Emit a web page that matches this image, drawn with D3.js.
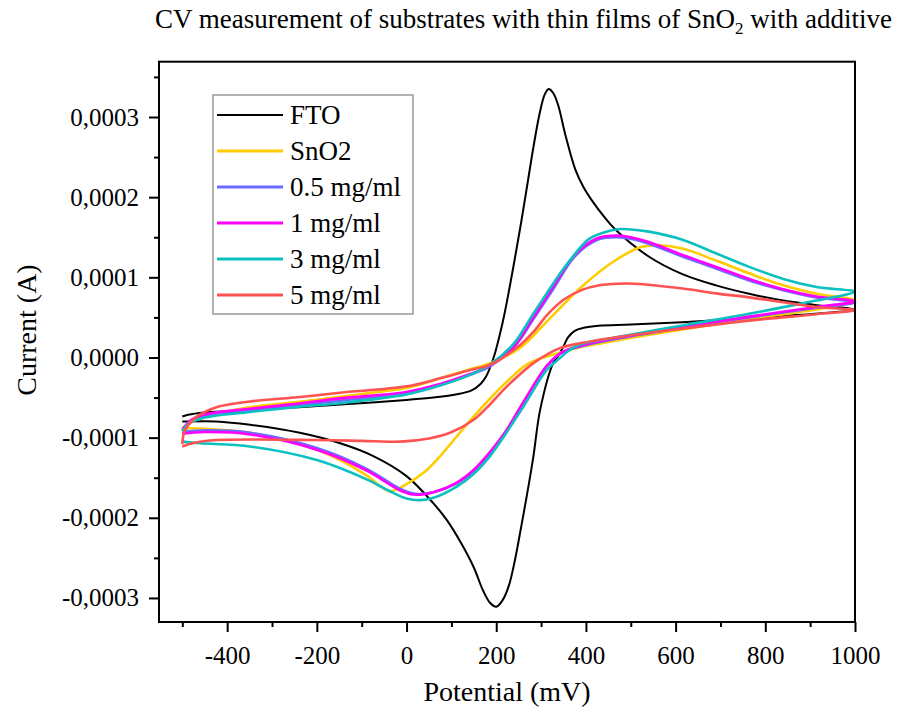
<!DOCTYPE html>
<html><head><meta charset="utf-8">
<script src="https://cdn.jsdelivr.net/npm/d3@7"></script>
<style>body{margin:0;background:#fff} text{font-family:"Liberation Serif","Times New Roman",serif;fill:#000}</style>
</head><body><svg id="c" width="898" height="713"></svg>
<script>
// ---- data: [potential mV, current A], forward scan then reverse scan ----
const seriesNames = ["FTO", "SnO2", "0.5 mg/ml", "1 mg/ml", "3 mg/ml", "5 mg/ml"];
const seriesColors = ["#000000", "#FFCC00", "#6B6BFF", "#FF00FF", "#0CC0C0", "#FF5252"];

const FTO = [
[-500,-7.36e-5],[-487,-7.14e-5],[-450,-6.86e-5],[-412,-6.73e-5],[-349,-6.52e-5],[-240,-6.2e-5],[-130,-5.8e-5],[0,-5.3e-5],[60,-5.0e-5],[112,-4.6e-5],[145,-4.1e-5],[165,-3.3e-5],[178,-2.3e-5],[188,-1.0e-5],[197,5e-6],[206,2.4e-5],[216,4.8e-5],[228,8.2e-5],[242,1.25e-4],[256,1.7e-4],[270,2.18e-4],[284,2.66e-4],[297,3.05e-4],[308,3.28e-4],[317,3.35e-4],[327,3.3e-4],[338,3.15e-4],[354,2.78e-4],[376,2.35e-4],[395,2.12e-4],[412,1.97e-4],[440,1.76e-4],[465,1.6e-4],[540,1.26e-4],[615,1.04e-4],[690,9.0e-5],[764,7.95e-5],[840,7.1e-5],[920,6.5e-5],[1000,6.0e-5],
[920,5.5e-5],[840,5.2e-5],[764,4.9e-5],[615,4.4e-5],[500,4.1e-5],[428,3.95e-5],[395,3.7e-5],[375,3.33e-5],[360,2.5e-5],[349,1.26e-5],[338,2e-6],[327,-7e-6],[298,-6.5e-5],[283,-1.23e-4],[268,-1.73e-4],[256,-2.1e-4],[242,-2.52e-4],[228,-2.85e-4],[214,-3.03e-4],[200,-3.11e-4],[186,-3.06e-4],[170,-2.9e-4],[150,-2.62e-4],[120,-2.3e-4],[90,-2.03e-4],[60,-1.82e-4],[0,-1.48e-4],[-74,-1.23e-4],[-148,-1.07e-4],[-238,-9.4e-5],[-349,-8.4e-5],[-424,-7.98e-5],[-500,-8.0e-5]];

const SnO2 = [
[-500,-8.8e-5],[-470,-7.8e-5],[-430,-7.1e-5],[-349,-6.2e-5],[-250,-5.6e-5],[-148,-4.9e-5],[-50,-4.2e-5],[0,-3.8e-5],[75,-2.6e-5],[140,-1.5e-5],[186,-7e-6],[253,1.2e-5],[315,4.6e-5],[390,8.8e-5],[465,1.21e-4],[525,1.38e-4],[562,1.4e-4],[615,1.36e-4],[690,1.21e-4],[764,1.05e-4],[840,9.0e-5],[914,7.95e-5],[1000,7.1e-5],
[960,6.5e-5],[914,6.0e-5],[764,4.8e-5],[615,3.5e-5],[465,2.1e-5],[390,1.3e-5],[342,5.8e-6],[300,-1e-6],[268,-9e-6],[224,-3.0e-5],[149,-7.4e-5],[75,-1.23e-4],[40,-1.43e-4],[0,-1.58e-4],[-37,-1.67e-4],[-60,-1.6e-4],[-89,-1.47e-4],[-200,-1.15e-4],[-349,-9.4e-5],[-450,-8.9e-5],[-500,-8.8e-5]];

const mg05 = [
[-500,-9.2e-5],[-480,-7.8e-5],[-440,-7.2e-5],[-349,-6.6e-5],[-250,-6.0e-5],[-148,-5.4e-5],[0,-4.5e-5],[75,-3.4e-5],[140,-2.2e-5],[186,-1.1e-5],[240,1.3e-5],[283,4.8e-5],[330,8.8e-5],[375,1.26e-4],[427,1.47e-4],[470,1.5e-4],[500,1.48e-4],[540,1.42e-4],[615,1.26e-4],[690,1.11e-4],[764,9.6e-5],[840,8.4e-5],[914,7.5e-5],[1000,6.9e-5],
[914,6.2e-5],[764,5.0e-5],[615,3.7e-5],[465,2.3e-5],[390,1.4e-5],[360,9e-6],[342,4.5e-6],[313,-1.1e-5],[261,-5.7e-5],[220,-9.5e-5],[186,-1.2e-4],[150,-1.42e-4],[112,-1.57e-4],[60,-1.68e-4],[20,-1.7e-4],[-14,-1.64e-4],[-89,-1.39e-4],[-200,-1.13e-4],[-349,-9.4e-5],[-450,-9.1e-5],[-500,-9.3e-5]];

const mg1 = [
[-500,-9.0e-5],[-480,-7.8e-5],[-440,-7.0e-5],[-349,-6.4e-5],[-250,-5.8e-5],[-148,-5.1e-5],[0,-4.3e-5],[75,-3.3e-5],[140,-2.1e-5],[186,-1.0e-5],[240,1.4e-5],[283,5.0e-5],[330,9.1e-5],[375,1.28e-4],[427,1.49e-4],[470,1.52e-4],[500,1.5e-4],[540,1.44e-4],[615,1.28e-4],[690,1.13e-4],[764,9.8e-5],[840,8.5e-5],[914,7.6e-5],[1000,7.0e-5],
[914,6.3e-5],[764,5.1e-5],[615,3.8e-5],[465,2.4e-5],[390,1.5e-5],[360,1e-5],[342,5e-6],[313,-1.0e-5],[261,-5.5e-5],[220,-9.3e-5],[186,-1.18e-4],[150,-1.4e-4],[112,-1.56e-4],[60,-1.68e-4],[15,-1.71e-4],[-14,-1.66e-4],[-89,-1.41e-4],[-200,-1.15e-4],[-349,-9.6e-5],[-450,-9.3e-5],[-500,-9.5e-5]];

const mg3 = [
[-500,-9.2e-5],[-487,-8.3e-5],[-450,-7.5e-5],[-349,-6.8e-5],[-250,-6.2e-5],[-148,-5.7e-5],[0,-4.6e-5],[75,-3.5e-5],[140,-2.2e-5],[186,-9e-6],[240,1.8e-5],[283,5.5e-5],[315,8.2e-5],[340,1.03e-4],[360,1.18e-4],[405,1.47e-4],[440,1.56e-4],[470,1.6e-4],[494,1.6e-4],[540,1.57e-4],[615,1.47e-4],[690,1.3e-4],[764,1.13e-4],[840,9.8e-5],[914,8.8e-5],[1000,8.2e-5],
[960,7.6e-5],[914,7.1e-5],[764,5.45e-5],[615,4.0e-5],[465,2.5e-5],[390,1.67e-5],[360,8e-6],[342,-8e-7],[313,-1.53e-5],[261,-6.1e-5],[220,-9.6e-5],[186,-1.23e-4],[150,-1.45e-4],[112,-1.61e-4],[60,-1.75e-4],[30,-1.78e-4],[0,-1.76e-4],[-40,-1.66e-4],[-89,-1.52e-4],[-200,-1.28e-4],[-349,-1.11e-4],[-460,-1.07e-4],[-500,-1.05e-4]];

const mg5 = [
[-500,-1.08e-4],[-495,-9.2e-5],[-475,-7.7e-5],[-450,-6.8e-5],[-424,-6.2e-5],[-349,-5.5e-5],[-250,-5.0e-5],[-148,-4.4e-5],[0,-3.6e-5],[75,-2.6e-5],[140,-1.6e-5],[186,-9e-6],[250,1.4e-5],[283,3.2e-5],[315,5.4e-5],[350,7.2e-5],[390,8.4e-5],[430,9.0e-5],[470,9.2e-5],[510,9.2e-5],[615,8.6e-5],[690,8.0e-5],[764,7.5e-5],[840,6.9e-5],[914,6.3e-5],[1000,5.9e-5],
[914,5.4e-5],[764,4.6e-5],[615,3.6e-5],[465,2.5e-5],[390,1.8e-5],[342,1.17e-5],[283,-7e-6],[224,-3.6e-5],[180,-6.2e-5],[149,-7.8e-5],[97,-9.4e-5],[50,-1.01e-4],[-14,-1.05e-4],[-100,-1.04e-4],[-200,-1.03e-4],[-424,-1.03e-4],[-470,-1.06e-4],[-500,-1.11e-4]];

const seriesData = [FTO, SnO2, mg05, mg1, mg3, mg5];

const xMajor = [-400, -200, 0, 200, 400, 600, 800, 1000];
const xMinor = [-500, -300, -100, 100, 300, 500, 700, 900];
const yMajor = [-3e-4, -2e-4, -1e-4, 0, 1e-4, 2e-4, 3e-4];
const yMinor = [-2.5e-4, -1.5e-4, -0.5e-4, 0.5e-4, 1.5e-4, 2.5e-4, 3.5e-4];

// ---- layout ----
const L = 159, R = 855, T = 61.7, B = 622;
const svg = d3.select("#c");
const x = d3.scaleLinear().domain([-552, 1000]).range([L, R]);
const y = d3.scaleLinear().domain([-3.3e-4, 3.69e-4]).range([B, T]);

const fmtY = d => (d < -1e-12 ? "-" : "") + Math.abs(d).toFixed(4).replace(".", ",");
const SERIF = "'Liberation Serif', 'Times New Roman', serif";

// axes
const gx = svg.append("g").attr("transform", `translate(0,${B})`)
  .call(d3.axisBottom(x).tickValues(xMajor).tickSize(10).tickPadding(14).tickFormat(d => d < 0 ? "-" + Math.abs(d) : String(d)));
const gxm = svg.append("g").attr("transform", `translate(0,${B})`)
  .call(d3.axisBottom(x).tickValues(xMinor).tickSize(5).tickFormat(""));
const gy = svg.append("g").attr("transform", `translate(${L},0)`)
  .call(d3.axisLeft(y).tickValues(yMajor).tickSize(10).tickPadding(10).tickFormat(fmtY));
const gym = svg.append("g").attr("transform", `translate(${L},0)`)
  .call(d3.axisLeft(y).tickValues(yMinor).tickSize(5).tickFormat(""));
[gx, gxm, gy, gym].forEach(g => {
  g.attr("font-family", SERIF).attr("font-size", 25);
  g.select(".domain").remove();
  g.selectAll(".tick line").attr("stroke", "#000").attr("stroke-width", 2);
  g.selectAll(".tick text").style("font-family", SERIF).style("font-size", "25px").attr("fill", "#000");
});

// curves
const line = d3.line().x(d => x(d[0])).y(d => y(d[1])).curve(d3.curveCatmullRom.alpha(0.5));
seriesData.forEach((s, i) => {
  svg.append("path").attr("d", line(s)).attr("fill", "none")
    .attr("stroke", seriesColors[i]).attr("stroke-width", i === 0 ? 2 : 2.6)
    .attr("stroke-linejoin", "round");
});

// frame
svg.append("rect").attr("x", L).attr("y", T).attr("width", R - L).attr("height", B - T)
  .attr("fill", "none").attr("stroke", "#000").attr("stroke-width", 2);

// legend
const lg = svg.append("g");
lg.append("rect").attr("x", 213).attr("y", 95).attr("width", 200).attr("height", 219)
  .attr("fill", "#fff").attr("stroke", "#999").attr("stroke-width", 1.5);
seriesNames.forEach((n, i) => {
  const yy = 115 + i * 36;
  lg.append("line").attr("x1", 217).attr("x2", 283).attr("y1", yy).attr("y2", yy)
    .attr("stroke", seriesColors[i]).attr("stroke-width", i === 0 ? 2 : 3);
  lg.append("text").attr("x", 290).attr("y", yy).attr("dy", "0.34em")
    .style("font-size", "27px").text(n);
});

// title
const t = svg.append("text").attr("x", 155).attr("y", 28).style("font-size", "27px");
t.append("tspan").text("CV measurement of substrates with thin films of SnO");
t.append("tspan").attr("dy", 6).style("font-size", "17px").text("2");
t.append("tspan").attr("dy", -6).text(" with additive");

// axis titles
svg.append("text").attr("x", 507).attr("y", 701).attr("text-anchor", "middle")
  .style("font-size", "28px").text("Potential (mV)");
svg.append("text").attr("transform", "translate(36,330) rotate(-90)").attr("text-anchor", "middle")
  .style("font-size", "28px").text("Current (A)");
</script></body></html>
